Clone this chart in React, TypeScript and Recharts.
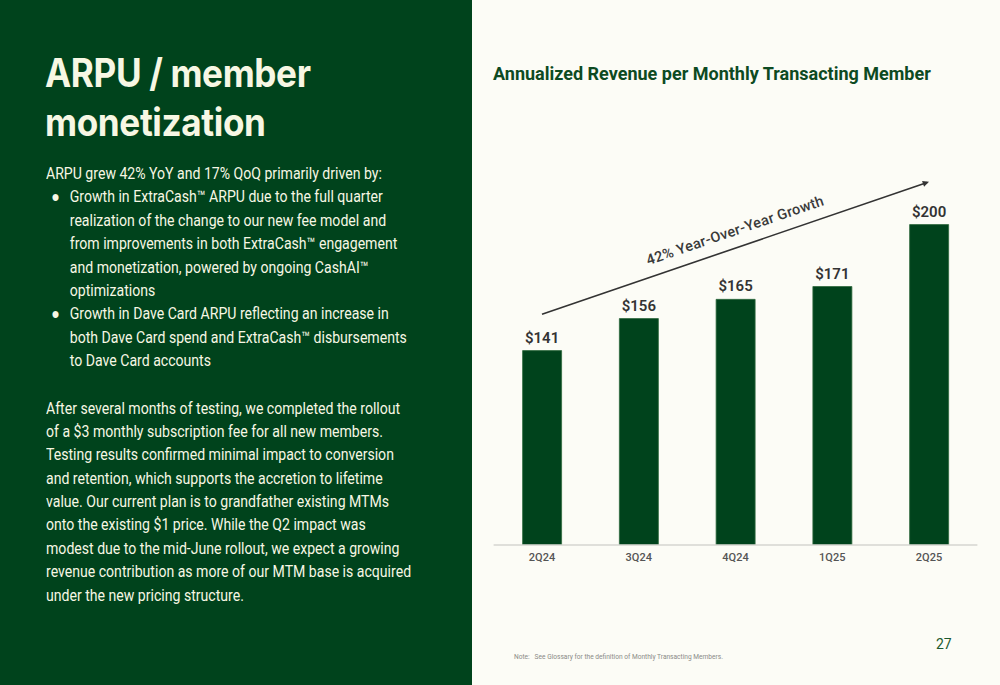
import React from "react";
import { BarChart, Bar, XAxis, YAxis, LabelList, ReferenceLine } from "recharts";

// Colors
const darkGreen = "#00431c";
const barGreen = "#00431c";
const cream = "#f7f7e4";
const pageBg = "#fcfcf6";

// Data
const quarters = ["2Q24", "3Q24", "4Q24", "1Q25", "2Q25"];
const arpu = [141, 156, 165, 171, 200];

// growth arrow endpoints (value units)
const arrowStart = 158;
const arrowEnd = 220;

const chartData = quarters.map((q, i) => ({ quarter: q, arpu: arpu[i] }));

const introLine = "ARPU grew 42% YoY and 17% QoQ primarily driven by:";
const bulletOne = [
  "Growth in ExtraCash™ ARPU due to the full quarter",
  "realization of the change to our new fee model and",
  "from improvements in both ExtraCash™ engagement",
  "and monetization, powered by ongoing CashAI™",
  "optimizations",
];
const bulletTwo = [
  "Growth in Dave Card ARPU reflecting an increase in",
  "both Dave Card spend and ExtraCash™ disbursements",
  "to Dave Card accounts",
];
const paragraph = [
  "After several months of testing, we completed the rollout",
  "of a $3 monthly subscription fee for all new members.",
  "Testing results confirmed minimal impact to conversion",
  "and retention, which supports the accretion to lifetime",
  "value. Our current plan is to grandfather existing MTMs",
  "onto the existing $1 price. While the Q2 impact was",
  "modest due to the mid-June rollout, we expect a growing",
  "revenue contribution as more of our MTM base is acquired",
  "under the new pricing structure.",
];

const bodyFont = "Roboto, 'Noto Sans', sans-serif";

// arrow drawn over the bars, label rotated along it
const GrowthArrow = (props: any) => {
  const { x1, y1, x2, y2 } = props;
  const ang = Math.atan2(y2 - y1, x2 - x1);
  const deg = (ang * 180) / Math.PI;
  const head = 7;
  const hx1 = x2 - head * Math.cos(ang - 0.45);
  const hy1 = y2 - head * Math.sin(ang - 0.45);
  const hx2 = x2 - head * Math.cos(ang + 0.45);
  const hy2 = y2 - head * Math.sin(ang + 0.45);
  const mx = (x1 + x2) / 2 + 5;
  const my = (y1 + y2) / 2 - 5 * Math.tan(-ang);
  return (
    <g>
      <line x1={x1} y1={y1} x2={x2 - 2 * Math.cos(ang)} y2={y2 - 2 * Math.sin(ang)} stroke="#333" strokeWidth={1.6} />
      <polygon points={`${x2},${y2} ${hx1},${hy1} ${hx2},${hy2}`} fill="#333" />
      <text
        transform={`translate(${mx},${my}) rotate(${deg})`}
        y={-12}
        textAnchor="middle"
        fontFamily={bodyFont}
        fontSize={14.5}
        fontWeight={500}
        fill="#3a3a3a"
        letterSpacing={0.3}
      >
        42% Year-Over-Year Growth
      </text>
    </g>
  );
};

const lineStyle: React.CSSProperties = { height: 23.4, whiteSpace: "nowrap" };

export default function App() {
  return (
    <div
      style={{
        position: "absolute",
        left: 0,
        top: 0,
        width: 1000,
        height: 685,
        background: pageBg,
        overflow: "hidden",
        fontFamily: bodyFont,
      }}
    >
      {/* left panel */}
      <div style={{ position: "absolute", left: 0, top: 0, width: 472, height: 685, background: darkGreen }} />
      <div
        style={{
          position: "absolute",
          left: 45,
          top: 48,
          color: cream,
          fontSize: 39,
          fontWeight: 700,
          lineHeight: "49px",
          fontFamily: "Inter, Roboto, sans-serif",
          letterSpacing: -0.4,
          transform: "scaleX(0.9)",
          transformOrigin: "left top",
        }}
      >
        <div>ARPU / member</div>
        <div>monetization</div>
      </div>
      <div
        style={{
          position: "absolute",
          left: 46,
          top: 162,
          color: cream,
          fontSize: 16,
          lineHeight: "23.4px",
          transform: "scaleX(0.88)",
          transformOrigin: "left top",
        }}
      >
        <div style={lineStyle}>{introLine}</div>
        {[bulletOne, bulletTwo].map((b, bi) => (
          <div key={bi} style={{ position: "relative", paddingLeft: 27 }}>
            <span style={{ position: "absolute", left: 6, top: 0, fontSize: 16 }}>●</span>
            {b.map((l, i) => (
              <div key={i} style={lineStyle}>{l}</div>
            ))}
          </div>
        ))}
        <div style={{ height: 24 }} />
        {paragraph.map((l, i) => (
          <div key={i} style={lineStyle}>{l}</div>
        ))}
      </div>

      {/* chart title */}
      <div
        style={{
          position: "absolute",
          left: 493,
          top: 63,
          color: "#0d4a22",
          fontSize: 18,
          fontWeight: 700,
          whiteSpace: "nowrap",
        }}
      >
        Annualized Revenue per Monthly Transacting Member
      </div>

      <div style={{ position: "absolute", left: 480, top: 140 }}>
        <BarChart
          width={500}
          height={440}
          data={chartData}
          margin={{ top: 20.5, right: 2.6, left: 13.6, bottom: 0 }}
        >
          <XAxis
            dataKey="quarter"
            height={35}
            axisLine={{ stroke: "#d6d6d0", strokeWidth: 1.5 }}
            tickLine={false}
            tick={{ fontSize: 11, fill: "#555", fontWeight: 500, fontFamily: bodyFont }}
          />
          <YAxis hide domain={[50, 230]} allowDataOverflow />
          <Bar dataKey="arpu" fill={barGreen} stroke="#2e6a3e" strokeWidth={0.8} barSize={39} isAnimationActive={false}>
            <LabelList
              dataKey="arpu"
              position="top"
              offset={8}
              formatter={(v: any) => `$${v}`}
              style={{ fontSize: 15, fontWeight: 600, fill: "#333", fontFamily: bodyFont }}
            />
          </Bar>
          <ReferenceLine
            segment={[
              { x: quarters[0], y: arrowStart },
              { x: quarters[quarters.length - 1], y: arrowEnd },
            ]}
            shape={GrowthArrow}
          />
        </BarChart>
      </div>

      <div style={{ position: "absolute", left: 514, top: 653, fontSize: 6.6, color: "#8a8a86", whiteSpace: "nowrap" }}>
        Note:&nbsp;&nbsp; See Glossary for the definition of Monthly Transacting Members.
      </div>
      <div style={{ position: "absolute", left: 936, top: 636, fontSize: 14, color: "#1d5a2e" }}>27</div>
    </div>
  );
}
